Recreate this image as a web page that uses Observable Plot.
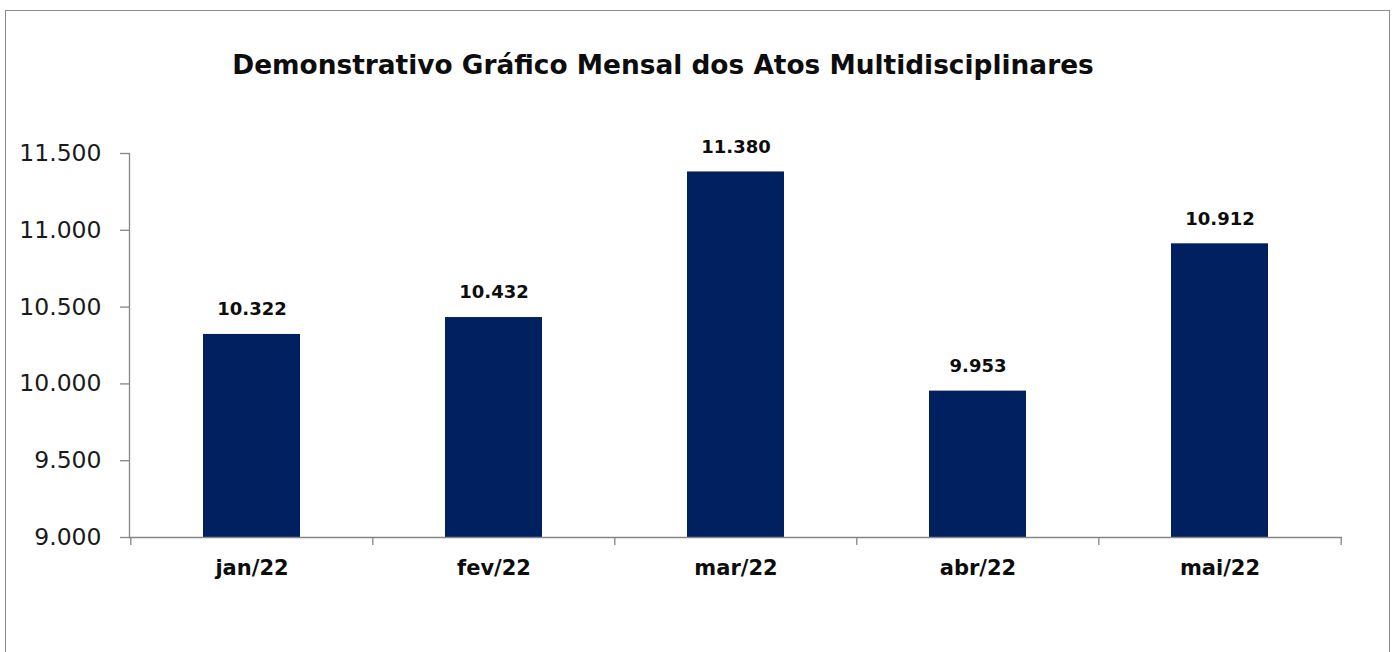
<!DOCTYPE html>
<html><head><meta charset="utf-8">
<script src="https://cdn.jsdelivr.net/npm/d3@7"></script>
<script src="https://cdn.jsdelivr.net/npm/@observablehq/plot@0.6"></script>
<style>
html,body{margin:0;padding:0;background:#fff;overflow:hidden;width:1395px;height:652px}
#chart{position:absolute;left:0;top:0}
#border{position:absolute;left:5px;top:10px;width:1383px;height:700px;border:1px solid #8c8c8c;pointer-events:none}
#title{position:absolute;left:0;top:52px;width:1326px;text-align:center;font-family:"DejaVu Sans";font-weight:bold;font-size:26.4px;line-height:26px;color:#0d0d0d;white-space:nowrap}
</style></head><body>
<div id="chart"></div>
<div id="border"></div>
<div id="title">Demonstrativo Gráfico Mensal dos Atos Multidisciplinares</div>
<script>
const months = ["jan/22", "fev/22", "mar/22", "abr/22", "mai/22"];
const values = [10322, 10432, 11380, 9953, 10912];
const yTicks = [9000, 9500, 10000, 10500, 11000, 11500];
const yDomain = [9000, 11500];

const data = months.map((m, i) => ({month: m, value: values[i]}));
const W = 1395, H = 652, ML = 129, MR = 54, MT = 153, MB = 115;
const step = (W - ML - MR) / months.length;
const ptBR = d3.formatLocale({decimal: ",", thousands: ".", grouping: [3], currency: ["R$", ""]});
const fmt = ptBR.format(",.0f");
const axisColor = "#868686";

const chart = Plot.plot({
  width: W, height: H,
  marginLeft: ML, marginRight: MR, marginTop: MT, marginBottom: MB,
  style: {background: "transparent", fontFamily: "DejaVu Sans"},
  x: {domain: months, paddingInner: 0.6, paddingOuter: 0.3},
  y: {domain: yDomain},
  marks: [
    Plot.barY(data, {x: "month", y1: yDomain[0], y2: "value", fill: "#002060"}),
    Plot.frame({anchor: "left", stroke: axisColor, strokeWidth: 1.3}),
    Plot.frame({anchor: "bottom", stroke: axisColor, strokeWidth: 1.3}),
    Plot.ruleX(months, {x: d => d, dx: -step / 2, y1: yDomain[0], y2: yDomain[0], insetBottom: -8, stroke: axisColor, strokeWidth: 1.3}),
    Plot.ruleX(months.slice(-1), {x: d => d, dx: step / 2, y1: yDomain[0], y2: yDomain[0], insetBottom: -8, stroke: axisColor, strokeWidth: 1.3}),
    Plot.axisY({ticks: yTicks, tickSize: 9, tickPadding: 19, tickFormat: fmt, label: null,
      fontSize: 23.5, fontFamily: "DejaVu Sans", stroke: axisColor, strokeWidth: 1.3, fill: "#1a1a1a"}),
    Plot.axisX({tickSize: 0, tickPadding: 23, label: null, fontSize: 21, fontWeight: "bold",
      fontFamily: "DejaVu Sans", fill: "#0d0d0d"}),
    Plot.text(data, {x: "month", y: "value", text: d => fmt(d.value), dy: -25,
      fontSize: 18, fontWeight: "bold", fontFamily: "DejaVu Sans", fill: "#0d0d0d"})
  ]
});
document.getElementById("chart").appendChild(chart);
</script>
</body></html>
